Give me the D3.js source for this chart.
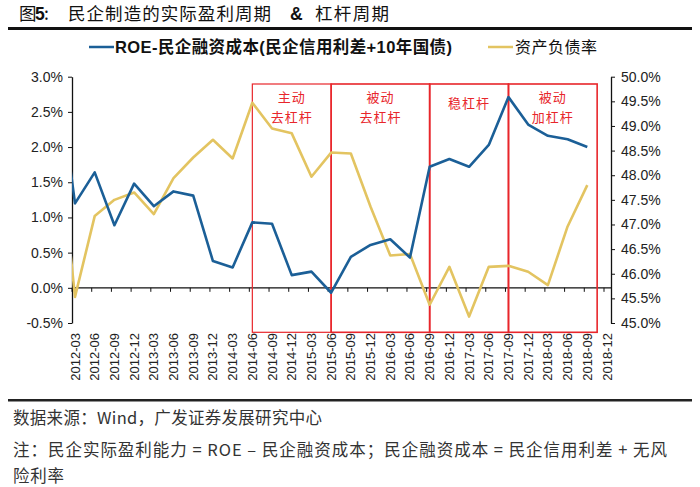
<!DOCTYPE html>
<html><head><meta charset="utf-8">
<script src="https://cdn.jsdelivr.net/npm/d3@7"></script>
<style>body{margin:0;background:#fff}svg{display:block}</style>
</head><body>
<svg id="c" width="700" height="487"></svg>
<script>
// ---- data ----
const dates = ["2011-12","2012-03","2012-06","2012-09","2012-12","2013-03","2013-06","2013-09","2013-12","2014-03","2014-06","2014-09","2014-12","2015-03","2015-06","2015-09","2015-12","2016-03","2016-06","2016-09","2016-12","2017-03","2017-06","2017-09","2017-12","2018-03","2018-06","2018-09","2018-12"];
const tickLabels = dates.slice(1);
const roeSpread = [3.3,1.20,1.64,0.89,1.48,1.16,1.37,1.31,0.38,0.29,0.93,0.91,0.18,0.23,-0.07,0.44,0.61,0.69,0.43,1.72,1.83,1.72,2.03,2.71,2.32,2.16,2.11,2.00,null];
const debtRatio = [49.4,45.53,47.17,47.50,47.65,47.21,47.94,48.36,48.72,48.34,49.47,48.95,48.85,47.97,48.46,48.44,47.36,46.37,46.40,45.37,46.14,45.13,46.14,46.16,46.04,45.77,46.96,47.80,null];
const leftTicks = [-0.5,0,0.5,1.0,1.5,2.0,2.5,3.0];
const rightTicks = [45,45.5,46,46.5,47,47.5,48,48.5,49,49.5,50];
const phases = [
  {from:"2014-06", to:"2015-06", lines:["主动","去杠杆"]},
  {from:"2015-06", to:"2016-09", lines:["被动","去杠杆"]},
  {from:"2016-09", to:"2017-09", lines:["稳杠杆"]},
  {from:"2017-09", to:"2018-12", lines:["被动","加杠杆"]}
];
const seriesNames = ["ROE-民企融资成本(民企信用利差+10年国债)","资产负债率"];

// ---- layout ----
const svg = d3.select("#c");
const L = 72, R = 611, T = 76.7, B = 323;
const x = d3.scalePoint().domain(dates).range([55.3, 607]);
const yL = d3.scaleLinear().domain([-0.5,3.0]).range([B,T]);
const yR = d3.scaleLinear().domain([45,50]).range([B,T]);
const blue = "#1b5f97", yellow = "#e3c461", red = "#e8262b";
const font = "'Liberation Sans', Arial, sans-serif";
const cjk = "'Noto Sans CJK SC', sans-serif";

// title
const tg = svg.append("g").attr("font-size",17.5).attr("fill","#111").attr("font-family",cjk);
tg.append("text").attr("x",19).attr("y",20).text("图");
tg.append("text").attr("x",35).attr("y",20).attr("font-family",font).attr("font-weight","bold").text("5");
tg.append("text").attr("x",44).attr("y",20).text(":");
tg.append("text").attr("x",68).attr("y",20).attr("textLength",203).attr("lengthAdjust","spacing").text("民企制造的实际盈利周期");
tg.append("text").attr("x",290).attr("y",20).attr("font-family",font).attr("font-weight","bold").text("&");
tg.append("text").attr("x",315).attr("y",20).attr("textLength",74).attr("lengthAdjust","spacing").text("杠杆周期");
svg.append("rect").attr("x",8).attr("y",27).attr("width",684).attr("height",3).attr("fill","#111");

// legend
svg.append("line").attr("x1",89).attr("x2",114).attr("y1",47).attr("y2",47).attr("stroke",blue).attr("stroke-width",2.5);
svg.append("text").attr("x",115).attr("y",53).attr("font-size",16.5).attr("font-weight","bold").attr("font-family",font+","+cjk).attr("fill","#111")
  .attr("textLength",337).attr("lengthAdjust","spacing").text(seriesNames[0]);
svg.append("line").attr("x1",488).attr("x2",513).attr("y1",47).attr("y2",47).attr("stroke",yellow).attr("stroke-width",2.5);
svg.append("text").attr("x",515).attr("y",53).attr("font-size",16).attr("font-family",cjk).attr("fill","#111")
  .attr("textLength",82).attr("lengthAdjust","spacing").text(seriesNames[1]);

// axes
const gL = svg.append("g").attr("transform",`translate(${L},0)`)
  .call(d3.axisLeft(yL).tickValues(leftTicks).tickFormat(d=>d.toFixed(1)+"%").tickSize(4).tickSizeOuter(0));
const gR = svg.append("g").attr("transform",`translate(${R},0)`)
  .call(d3.axisRight(yR).tickValues(rightTicks).tickFormat(d=>d.toFixed(1)+"%").tickSize(4).tickSizeOuter(0));
[gL,gR].forEach(g=>{
  g.selectAll("text").attr("font-size",14).attr("font-family",font).attr("fill","#222");
  g.select(".domain").attr("stroke","#111").attr("stroke-width",1.3);
  g.selectAll(".tick line").attr("stroke","#111");
});
gL.selectAll("text").attr("x",-9);
gR.selectAll("text").attr("x",10);

// x axis at zero
const y0 = yL(0);
svg.append("line").attr("x1",L).attr("x2",R).attr("y1",y0).attr("y2",y0).attr("stroke","#111").attr("stroke-width",1.3);
svg.append("g").selectAll("line").data(tickLabels).join("line")
  .attr("x1",d=>x(d)-3).attr("x2",d=>x(d)-3).attr("y1",y0).attr("y2",y0+4).attr("stroke","#111");
svg.append("g").selectAll("text").data(tickLabels).join("text")
  .attr("transform",d=>`translate(${x(d)+4.5},${B+10}) rotate(-90)`)
  .attr("text-anchor","end").attr("font-size",13).attr("font-family",font).attr("fill","#222").text(d=>d);

// red phase boxes
const step = x.step();
const boxG = svg.append("g");
phases.forEach((p,i)=>{
  const x0 = x(p.from);
  const x1 = i===phases.length-1 ? x("2018-09")+step/2 : x(p.to);
  boxG.append("rect").attr("x",x0).attr("y",84).attr("width",x1-x0).attr("height",332.3-84)
    .attr("fill","none").attr("stroke",red).attr("stroke-width",i===0?1.2:1.6);
  const cx = (x0+x1)/2;
  const startY = p.lines.length===1 ? 108 : 102;
  p.lines.forEach((t,j)=>{
    boxG.append("text").attr("x",cx).attr("y",startY+j*20).attr("text-anchor","middle")
      .attr("font-size",13).attr("font-family",cjk).attr("fill",red).attr("letter-spacing",1).text(t);
  });
});

// lines
svg.append("clipPath").attr("id","clip").append("rect").attr("x",L).attr("y",60).attr("width",R-L).attr("height",280);
const plot = svg.append("g").attr("clip-path","url(#clip)");
const lineL = d3.line().defined(d=>d[1]!=null).x(d=>x(d[0])).y(d=>yL(d[1]));
const lineR = d3.line().defined(d=>d[1]!=null).x(d=>x(d[0])).y(d=>yR(d[1]));
plot.append("path").datum(dates.map((d,i)=>[d,debtRatio[i]])).attr("d",lineR)
  .attr("fill","none").attr("stroke",yellow).attr("stroke-width",2.6).attr("stroke-linejoin","round");
plot.append("path").datum(dates.map((d,i)=>[d,roeSpread[i]])).attr("d",lineL)
  .attr("fill","none").attr("stroke",blue).attr("stroke-width",2.6).attr("stroke-linejoin","round");

// footer
svg.append("rect").attr("x",8).attr("y",399).attr("width",684).attr("height",2.5).attr("fill","#222");
const foot = ["数据来源：Wind，广发证券发展研究中心","注：民企实际盈利能力 = ROE – 民企融资成本；民企融资成本 = 民企信用利差 + 无风","险利率"];
const footLen = [309, 654, 51];
svg.append("g").selectAll("text").data(foot).join("text")
  .attr("x",13).attr("y",(d,i)=>[424,456,482][i]).attr("font-size",16.5).attr("font-family",cjk).attr("fill","#333")
  .attr("textLength",(d,i)=>footLen[i]).attr("lengthAdjust","spacing").text(d=>d);
</script>
</body></html>
